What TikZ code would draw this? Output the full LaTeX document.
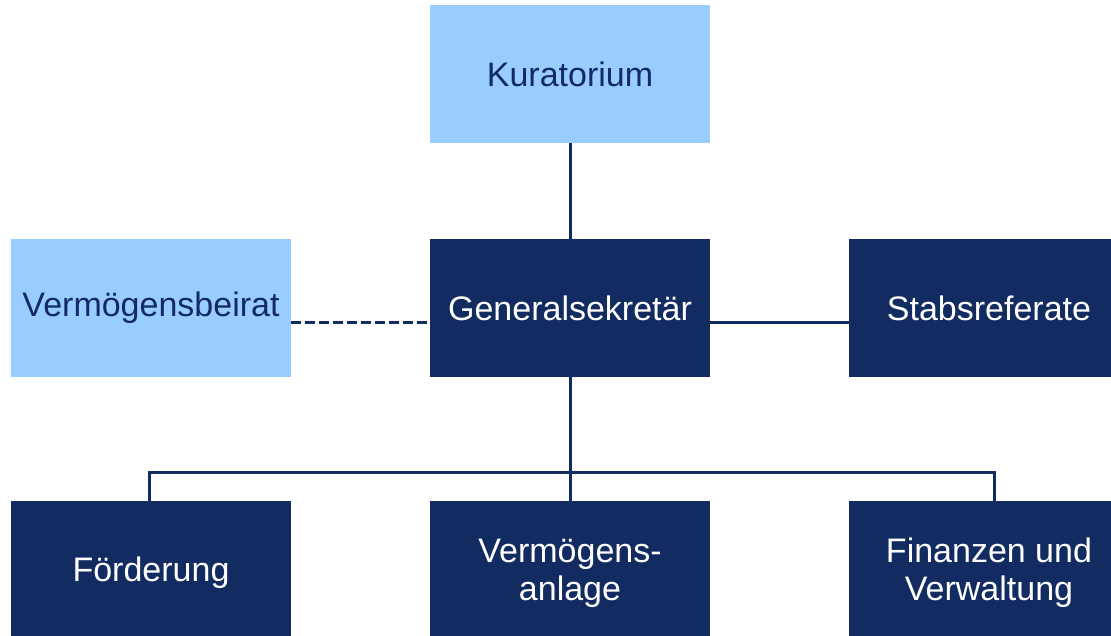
\documentclass[tikz,border=0pt]{standalone}
\usepackage{fontspec}
\setmainfont{Liberation Sans}
\definecolor{navy}{HTML}{122B60}
\definecolor{lightblue}{HTML}{99CCFF}
\begin{document}
\begin{tikzpicture}[x=1pt,y=-1pt,
  box/.style={rectangle, minimum width=280pt, minimum height=138pt, inner sep=0pt, align=center,
    font=\fontsize{34}{38}\selectfont},
  lightbox/.style={box, fill=lightblue, text=navy},
  darkbox/.style={box, fill=navy, text=white},
  lowbox/.style={darkbox, minimum height=144pt},
  conn/.style={draw=navy, line width=3pt},
  dashconn/.style={conn, dash pattern=on 9.5pt off 4.5pt}]
\useasboundingbox (0,0) rectangle (1111,636);
\clip (0,0) rectangle (1111,636);
\node[lightbox] (kur) at (570,74) {Kuratorium};
\node[lightbox] (vb) at (151,308) {Vermögensbeirat};
\node[darkbox] (gs) at (570,308) {Generalsekretär};
\node[darkbox] (sr) at (989,308) {Stabsreferate};
\node[lowbox] (foe) at (151,573) {Förderung};
\node[lowbox] (va) at (570,573) {Vermögens-\\anlage};
\node[lowbox] (fv) at (989,573) {Finanzen und\\Verwaltung};
\coordinate (busL) at (149,472.5);
\coordinate (busR) at (994,472.5);
\draw[conn] (kur.south) -- (gs.north);
\draw[conn] (gs.south) -- (va.north);
\draw[conn] ([yshift=-14.5pt]gs.east) -- ([yshift=-14.5pt]sr.west);
\draw[dashconn] ([yshift=-14.5pt]vb.east) -- ([yshift=-14.5pt]gs.west);
\draw[conn] (busL |- foe.north) -- (busL) -- (busR) -- (busR |- fv.north);
\end{tikzpicture}
\end{document}
